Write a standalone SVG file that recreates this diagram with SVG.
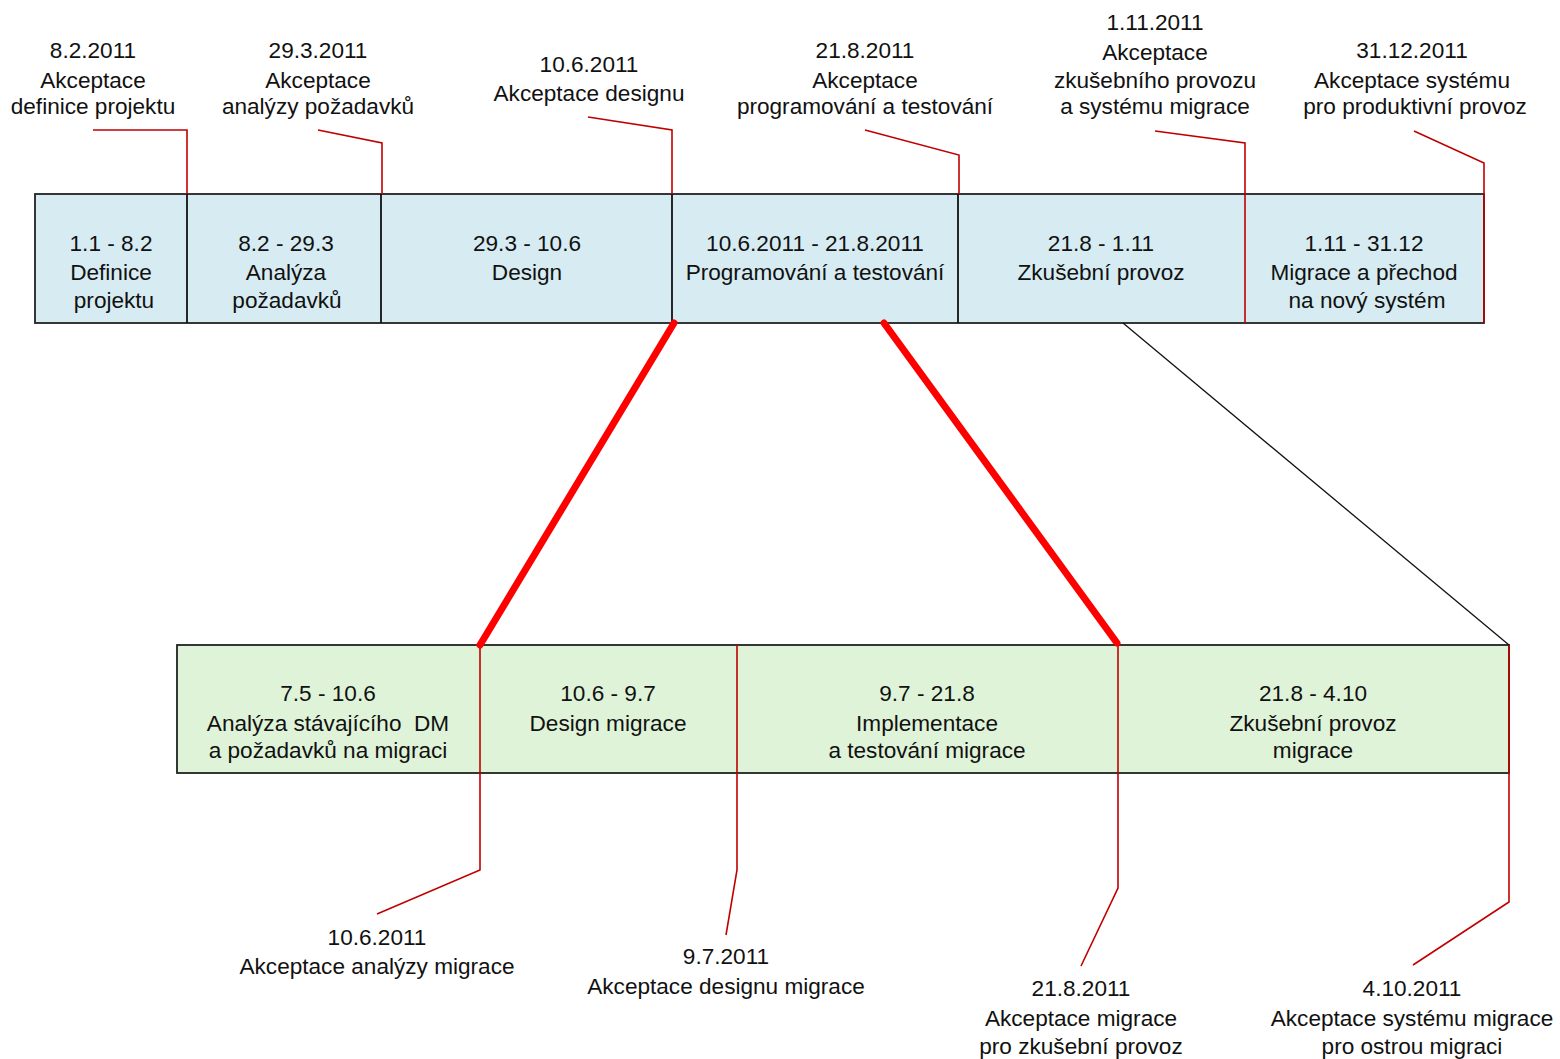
<svg xmlns="http://www.w3.org/2000/svg" width="1560" height="1059" viewBox="0 0 1560 1059">
<style>
text{font-family:"Liberation Sans",Arial,sans-serif;font-size:22.6px;fill:#111;text-anchor:middle}
.pre{white-space:pre}
.blue{fill:#D6ECF2;stroke:#222;stroke-width:1.8}
.green{fill:#DFF3D8;stroke:#222;stroke-width:1.8}
.div{stroke:#111;stroke-width:1.8;fill:none}
.red{stroke:#C00000;stroke-width:1.6;fill:none}
.thick{stroke:#FF0000;stroke-width:7;stroke-linecap:round;fill:none}
.thin{stroke:#111;stroke-width:1.3;fill:none}
</style>
<rect width="1560" height="1059" fill="#fff"/>
<g id="top-bar">
<rect class="blue" x="35" y="194" width="1449" height="129"/>
</g>
<g id="bottom-bar">
<rect class="green" x="177" y="645" width="1332" height="128"/>
</g>
<g id="t1"><line class="div" x1="187" y1="194" x2="187" y2="323"/>
<text x="111" y="251">1.1 - 8.2</text><text x="111" y="280">Definice</text><text x="114" y="308">projektu</text></g>
<g id="t2"><line class="div" x1="381" y1="194" x2="381" y2="323"/>
<text x="286" y="251">8.2 - 29.3</text><text x="286" y="280">Analýza</text><text x="287" y="308">požadavků</text></g>
<g id="t3"><line class="div" x1="672" y1="194" x2="672" y2="323"/>
<text x="527" y="251">29.3 - 10.6</text><text x="527" y="280">Design</text></g>
<g id="t4"><line class="div" x1="958" y1="194" x2="958" y2="323"/>
<text x="815" y="251">10.6.2011 - 21.8.2011</text><text x="815" y="280">Programování a testování</text></g>
<g id="t5"><text x="1101" y="251">21.8 - 1.11</text><text x="1101" y="280">Zkušební provoz</text></g>
<g id="t6"><text x="1364" y="251">1.11 - 31.12</text><text x="1364" y="280">Migrace a přechod</text><text x="1367" y="308">na nový systém</text></g>
<g id="b1"><text x="328" y="701">7.5 - 10.6</text><text class="pre" x="328" y="731">Analýza stávajícího  DM</text><text x="328" y="758">a požadavků na migraci</text></g>
<g id="b2"><text x="608" y="701">10.6 - 9.7</text><text x="608" y="731">Design migrace</text></g>
<g id="b3"><text x="927" y="701">9.7 - 21.8</text><text x="927" y="731">Implementace</text><text x="927" y="758">a testování migrace</text></g>
<g id="b4"><text x="1313" y="701">21.8 - 4.10</text><text x="1313" y="731">Zkušební provoz</text><text x="1313" y="758">migrace</text></g>
<g id="m1"><text x="93" y="58">8.2.2011</text><text x="93" y="88">Akceptace</text><text x="93" y="114">definice projektu</text></g>
<g id="m2"><text x="318" y="58">29.3.2011</text><text x="318" y="88">Akceptace</text><text x="318" y="114">analýzy požadavků</text></g>
<g id="m3"><text x="589" y="72">10.6.2011</text><text x="589" y="101">Akceptace designu</text></g>
<g id="m4"><text x="865" y="58">21.8.2011</text><text x="865" y="88">Akceptace</text><text x="865" y="114">programování a testování</text></g>
<g id="m5"><text x="1155" y="30">1.11.2011</text><text x="1155" y="60">Akceptace</text><text x="1155" y="88">zkušebního provozu</text><text x="1155" y="114">a systému migrace</text></g>
<g id="m6"><text x="1412" y="58">31.12.2011</text><text x="1412" y="88">Akceptace systému</text><text x="1415" y="114">pro produktivní provoz</text></g>
<g id="n1"><text x="377" y="945">10.6.2011</text><text x="377" y="974">Akceptace analýzy migrace</text></g>
<g id="n2"><text x="726" y="964">9.7.2011</text><text x="726" y="994">Akceptace designu migrace</text></g>
<g id="n3"><text x="1081" y="996">21.8.2011</text><text x="1081" y="1026">Akceptace migrace</text><text x="1081" y="1054">pro zkušební provoz</text></g>
<g id="n4"><text x="1412" y="996">4.10.2011</text><text x="1412" y="1026">Akceptace systému migrace</text><text x="1412" y="1054">pro ostrou migraci</text></g>
<g id="connectors">
<polyline class="red" points="93,130 187,130 187,194"/>
<polyline class="red" points="318,130 382,143 382,194"/>
<polyline class="red" points="588,117 672,130 672,194"/>
<polyline class="red" points="865,130 959,155 959,194"/>
<polyline class="red" points="1155,131 1245,143 1245,323"/>
<polyline class="red" points="1414,131 1484,163 1484,323"/>
<polyline class="red" points="480,645 480,870 377,914"/>
<polyline class="red" points="737,645 737,870 726,935"/>
<polyline class="red" points="1118,645 1118,888 1081,966"/>
<polyline class="red" points="1509,645 1509,902 1413,965"/>
<line class="thick" x1="674" y1="323" x2="480" y2="645"/>
<line class="thick" x1="884" y1="323" x2="1117" y2="643"/>
<line class="thin" x1="1123" y1="323" x2="1509" y2="645"/>
</g>
</svg>
